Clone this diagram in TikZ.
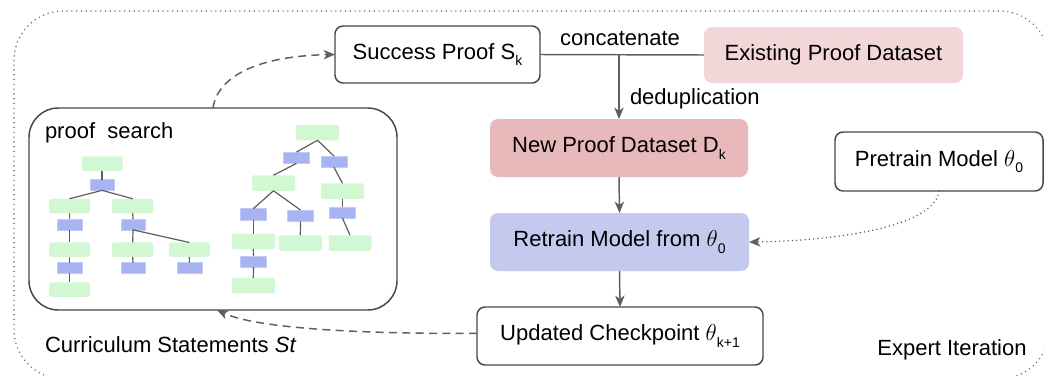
\documentclass[tikz,border=0pt]{standalone}
\usepackage{fontspec}
\setmainfont{Liberation Sans}
\usetikzlibrary{arrows.meta}

\definecolor{linegray}{HTML}{5E5E5E}
\definecolor{boxline}{HTML}{474747}
\definecolor{framegray}{HTML}{6E6E6E}
\definecolor{pinklight}{HTML}{F3D7D8}
\definecolor{pinkmid}{HTML}{E8B9BA}
\definecolor{lavender}{HTML}{C3CAEE}
\definecolor{leafgreen}{HTML}{D1F8D3}
\definecolor{tacblue}{HTML}{A8B4F2}

% small lowered subscript in the text font
\newcommand\lowsub[1]{\raisebox{-0.55ex}{\fontsize{10.5}{12}\selectfont #1}}

\tikzset{
  sz/.style 2 args={minimum width=#1*0.75pt, minimum height=#2*0.75pt},
  basebox/.style={inner sep=0pt, outer sep=0pt, rounded corners=6pt,
                  font=\fontsize{16.5}{19}\selectfont},
  whitebox/.style={basebox, draw=boxline, line width=1.1pt, fill=white},
  fillbox/.style={basebox, draw=none},
  lbl/.style={inner sep=0pt, outer sep=0pt, font=\fontsize{16.5}{19}\selectfont},
  flow/.style={draw=linegray, line width=1.1pt},
  arr/.style={flow, -{Stealth[length=8.5pt, width=7pt, inset=2.4pt]}},
  dashedarr/.style={arr, dash pattern=on 6pt off 4pt},
  dottedarr/.style={draw=linegray, line width=1.2pt, line cap=round,
                    dash pattern=on 0pt off 3.2pt,
                    -{Stealth[length=8.5pt, width=7pt, inset=2.4pt]}},
  leaf/.style={fill=leafgreen, draw=none, rounded corners=1.5pt,
               inner sep=0pt, outer sep=0pt},
  tac/.style={fill=tacblue, draw=tacblue!70!white, line width=0.3pt,
              inner sep=0pt, outer sep=0pt},
  leafA/.style={leaf, sz={41}{14.5}},
  tacA/.style={tac, sz={24.5}{10.7}},
  leafB/.style={leaf, sz={43}{15.5}},
  tacB/.style={tac, sz={26}{11.3}},
  treeline/.style={draw=linegray, line width=0.9pt}
}

\begin{document}
\begin{tikzpicture}[x=0.75pt, y=-0.75pt]
\useasboundingbox (0,0) rectangle (1044,375);

% outer loop frame
\draw[framegray, line width=1.25pt, line cap=round, dash pattern=on 0pt off 3.6pt,
      rounded corners=37pt] (14,11) rectangle (1049,379);

% main flow boxes
\node[whitebox, sz={205}{57}] (succ) at (437.5,54.5) {Success Proof S\lowsub{k}};
\node[fillbox, fill=pinklight, sz={259}{56}] (exist) at (833.5,55) {Existing Proof Dataset};
\node[fillbox, fill=pinkmid, sz={258}{58}] (newd) at (619,148) {New Proof Dataset D\lowsub{k}};
\node[fillbox, fill=lavender, sz={259}{58}] (retr) at (619.5,242) {Retrain Model from $\theta$\lowsub{0}};
\node[whitebox, sz={286}{58}] (upd) at (620,336) {Updated Checkpoint $\theta$\lowsub{k+1}};
\node[whitebox, sz={208}{59}] (pre) at (939,161.5) {Pretrain Model $\theta$\lowsub{0}};

% proof search panel
\node[draw=boxline, line width=1.1pt, rounded corners=22pt, inner sep=0pt,
      outer sep=0pt, sz={368}{202}] (ps) at (213,209) {};
\node[lbl, anchor=west] (pslbl) at (45,133) {proof\ \ search};

% labels
\node[lbl] (cat) at (620,38) {concatenate};
\node[lbl, anchor=west] (dedup) at (630,99) {deduplication};
\node[lbl, anchor=west] (curr) at (45,345) {Curriculum Statements \textit{St}};
\node[lbl] (expert) at (952,350) {Expert Iteration};

% connectors
\coordinate (join) at (newd.north |- succ.east);
\draw[flow] (succ.east) -- (exist.west);
\draw[arr] (join) -- (newd.north);
\draw[arr] (newd.south) -- (retr.north);
\draw[arr] (retr.south) -- (upd.north);
\draw[dottedarr] (pre.south) .. controls (935,228) and (830,241) .. (retr.east);
\draw[dashedarr] (ps.north) .. controls (218,75) and (260,56) .. (succ.west);
\coordinate (psin) at ([xshift=3pt]ps.south);
\draw[dashedarr] ([yshift=2pt]upd.west) .. controls (380,334) and (260,330) .. (psin);

% left search tree
\node[leafA] (a1) at (102,163.5) {};
\node[tacA]  (a2) at (102,185) {};
\node[leafA] (a3) at (69.5,206) {};
\node[tacA]  (a4) at (69.5,224.5) {};
\node[leafA] (a5) at (69.5,249.7) {};
\node[tacA]  (a6) at (69.5,268) {};
\node[leafA] (a7) at (69.5,289.7) {};
\node[leafA] (a8) at (132.7,206) {};
\node[tacA]  (a9) at (133,224.5) {};
\node[leafA] (a10) at (132.7,249.7) {};
\node[tacA]  (a11) at (133,268) {};
\node[leafA] (a12) at (189.3,249.7) {};
\node[tacA]  (a13) at (189.5,268) {};

\draw[treeline] (a1.south) -- (a2.north);
\draw[treeline] (a2.south) -- (a3.north);
\draw[treeline] (a2.south) -- (a8.north);
\draw[treeline] (a3.south) -- (a4.north);
\draw[treeline] (a4.south) -- (a5.north);
\draw[treeline] (a5.south) -- (a6.north);
\draw[treeline] (a6.south) -- (a7.north);
\draw[treeline] (a8.south) -- (a9.north);
\draw[treeline] (a9.south) -- (a10.north);
\draw[treeline] (a9.south) -- (a12.north);
\draw[treeline] (a10.south) -- (a11.north);
\draw[treeline] (a12.south) -- (a13.north);

% right search tree
\node[leafB] (b1) at (317.5,132.5) {};
\node[tacB]  (b2) at (296.5,157.7) {};
\node[tacB]  (b3) at (334,161.7) {};
\node[leafB] (b4) at (273.5,183) {};
\node[tacB]  (b5) at (253.3,214.3) {};
\node[tacB]  (b6) at (300.5,215.7) {};
\node[leafB] (b7) at (253.3,241.3) {};
\node[tacB]  (b8) at (253.5,261.5) {};
\node[leafB] (b9) at (253.3,285.5) {};
\node[leafB] (b10) at (300.3,243) {};
\node[leafB] (b11) at (342.5,191) {};
\node[tacB]  (b12) at (342.5,212.5) {};
\node[leafB] (b13) at (350,243) {};

\draw[treeline] (b1.south) -- (b2.north);
\draw[treeline] (b1.south) -- (b3.north);
\draw[treeline] (b2.south) -- (b4.north);
\draw[treeline] (b4.south) -- (b5.north);
\draw[treeline] (b4.south) -- (b6.north);
\draw[treeline] (b5.south) -- (b7.north);
\draw[treeline] (b7.south) -- (b8.north);
\draw[treeline] (b8.south) -- (b9.north);
\draw[treeline] (b6.south) -- (b10.north);
\draw[treeline] (b3.south) -- (b11.north);
\draw[treeline] (b11.south) -- (b12.north);
\draw[treeline] (b12.south) -- (b13.north);
\end{tikzpicture}
\end{document}
